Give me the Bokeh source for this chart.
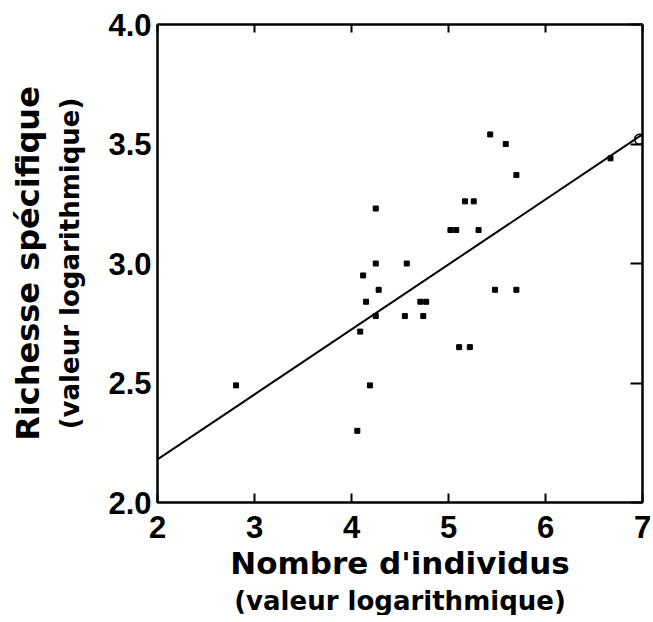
from bokeh.plotting import figure
from bokeh.models import Range1d, LinearAxis, FixedTicker, Title, PrintfTickFormatter
from bokeh.embed import file_html
from bokeh.resources import INLINE

# --- data ---
ind_x = [2.81, 4.06, 4.19, 4.09, 4.25, 4.15, 4.28, 4.12, 4.25, 4.25,
         4.57, 4.55, 4.71, 4.77, 4.74, 5.02, 5.08, 5.31, 5.17, 5.26,
         5.11, 5.22, 5.43, 5.59, 5.70, 5.48, 5.70, 6.67]
rich_y = [2.49, 2.30, 2.49, 2.715, 2.78, 2.84, 2.89, 2.95, 3.00, 3.23,
          3.00, 2.78, 2.84, 2.84, 2.78, 3.14, 3.14, 3.14, 3.26, 3.26,
          2.65, 2.65, 3.54, 3.50, 3.37, 2.89, 2.89, 3.44]
open_x = [6.97]
open_y = [3.52]
fit_x = [2.0, 7.0]
fit_y = [2.18, 3.54]
x_ticks = [2, 3, 4, 5, 6, 7]
y_ticks = [2.0, 2.5, 3.0, 3.5, 4.0]

TICK_FONT = "Liberation Sans"
TITLE_FONT = "DejaVu Sans"

p = figure(frame_width=485, frame_height=478, output_backend="svg",
           toolbar_location=None, x_range=Range1d(2, 7), y_range=Range1d(2, 4),
           min_border_left=0, min_border_right=9, min_border_top=24,
           min_border_bottom=0)
p.background_fill_color = "white"
p.border_fill_color = "white"
p.grid.visible = False
p.outline_line_color = "black"
p.outline_line_width = 2

p.line(fit_x, fit_y, line_color="black", line_width=2)
p.scatter(ind_x, rich_y, marker="square", size=5, fill_color="black",
          line_color="black")
p.scatter(open_x, open_y, marker="circle", size=10, fill_color=None,
          line_color="black", line_width=1.5)

xa = p.xaxis[0]
xa.ticker = FixedTicker(ticks=x_ticks)
xa.major_label_text_font = TICK_FONT
xa.major_label_text_font_style = "bold"
xa.major_label_text_font_size = "31px"
xa.major_label_text_color = "black"
xa.major_label_standoff = 13
xa.major_tick_in = 9
xa.major_tick_out = 0
xa.minor_tick_in = 0
xa.minor_tick_out = 0
xa.axis_line_width = 2
xa.major_tick_line_width = 2
xa.axis_label = "Nombre d'individus"
xa.axis_label_text_font = TITLE_FONT
xa.axis_label_text_font_style = "bold"
xa.axis_label_text_font_size = "31px"
xa.axis_label_text_color = "black"
xa.axis_label_standoff = 4

ya = p.yaxis[0]
ya.ticker = FixedTicker(ticks=y_ticks)
ya.formatter = PrintfTickFormatter(format="%.1f")
ya.major_label_text_font = TICK_FONT
ya.major_label_text_font_style = "bold"
ya.major_label_text_font_size = "31px"
ya.major_label_text_color = "black"
ya.major_label_standoff = 6
ya.major_tick_in = 0
ya.major_tick_out = 0
ya.minor_tick_in = 0
ya.minor_tick_out = 0
ya.axis_line_width = 2
ya.axis_label = "(valeur logarithmique)"
ya.axis_label_text_font = TITLE_FONT
ya.axis_label_text_font_style = "bold"
ya.axis_label_text_font_size = "26px"
ya.axis_label_text_color = "black"
ya.axis_label_standoff = 20

top = LinearAxis(ticker=FixedTicker(ticks=x_ticks), major_label_text_font_size="1px",
                 major_label_text_color=None,
                 major_tick_in=8, major_tick_out=0, minor_tick_in=0, minor_tick_out=0,
                 axis_line_width=2, major_tick_line_width=2, major_label_standoff=0)
right = LinearAxis(ticker=FixedTicker(ticks=y_ticks), major_label_text_font_size="1px",
                   major_label_text_color=None,
                   major_tick_in=12, major_tick_out=0, minor_tick_in=0, minor_tick_out=0,
                   axis_line_width=2, major_tick_line_width=2, major_label_standoff=0)
p.add_layout(top, "above")
p.add_layout(right, "right")

p.add_layout(Title(text="(valeur logarithmique)", align="center",
                   text_font=TITLE_FONT, text_font_style="bold",
                   text_font_size="26px", text_color="black", standoff=0), "below")
p.add_layout(Title(text="Richesse spécifique", align="center",
                   text_font=TITLE_FONT, text_font_style="bold",
                   text_font_size="32px", text_color="black", standoff=12), "left")

open("out.html", "w").write(file_html(p, INLINE))
